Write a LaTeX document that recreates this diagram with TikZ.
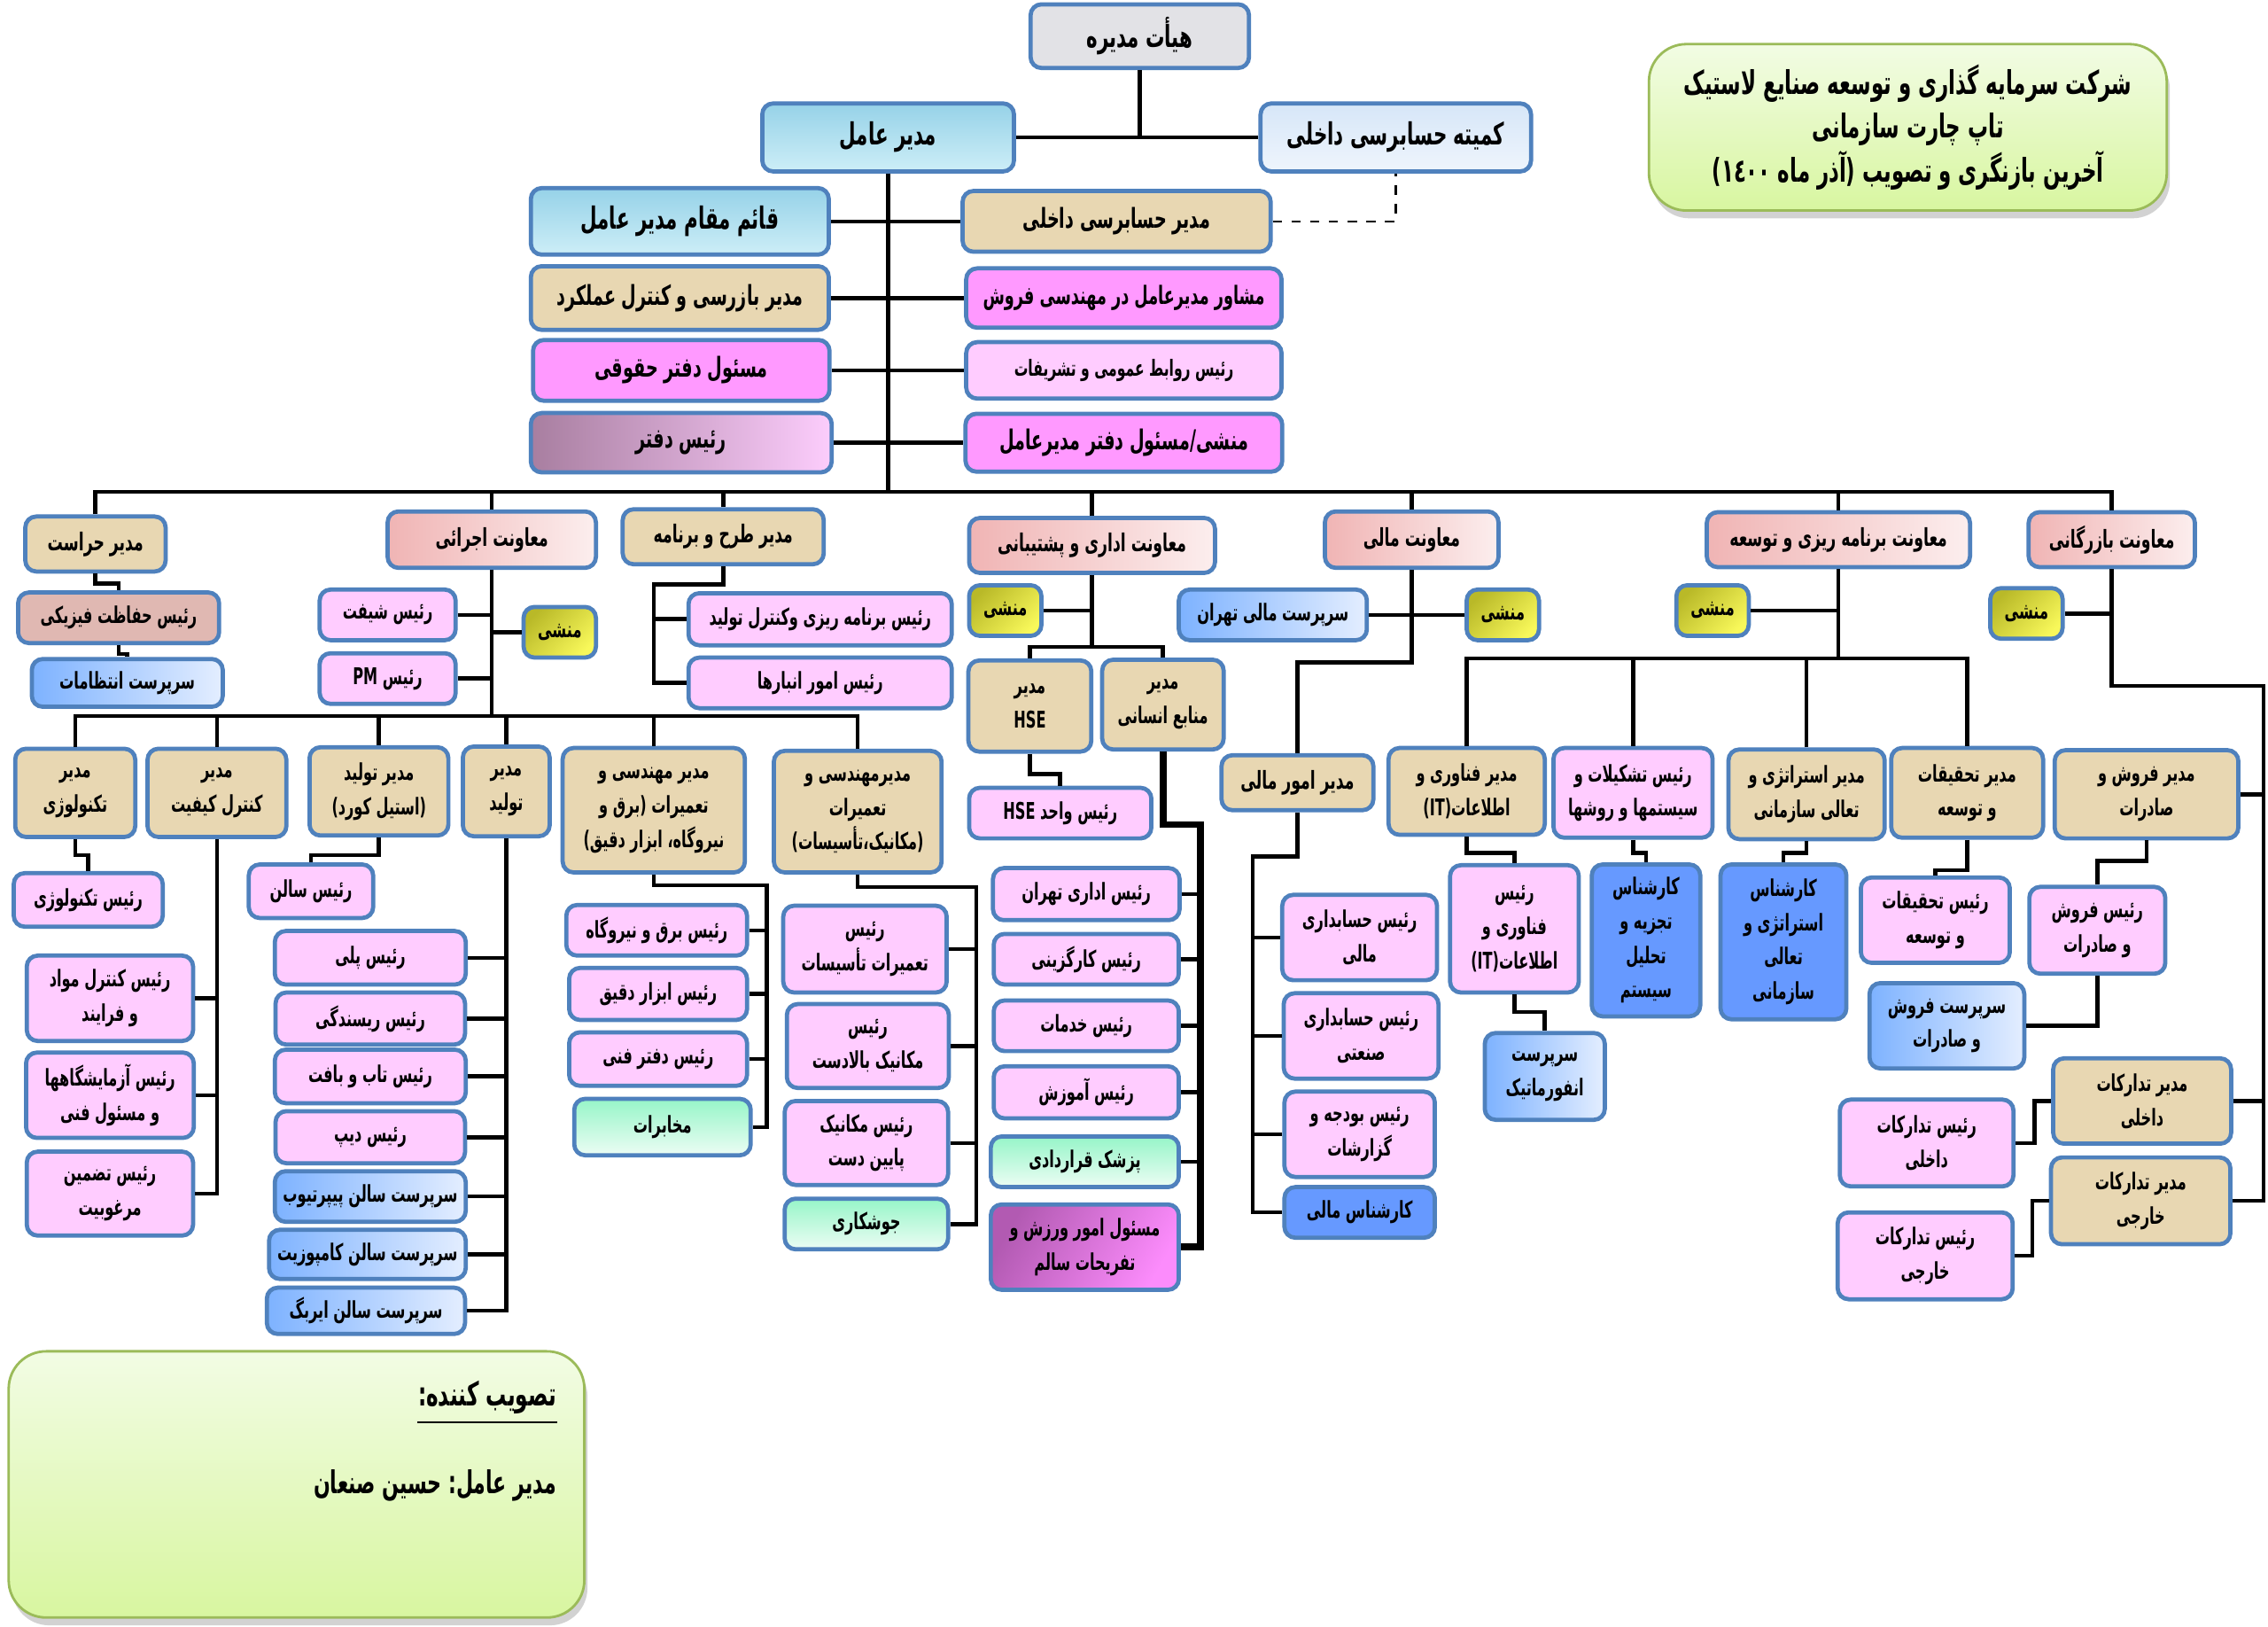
\documentclass[tikz,border=0pt]{standalone}
\usepackage{fontspec}
\usetikzlibrary{shadows}
\TeXXeTstate=1
\newfontfamily\fa[Script=Arabic,FakeStretch=0.69]{DejaVu Sans Condensed}
\newcommand\R[1]{\beginR#1\endR}
\newcommand\Lb[1]{\hbox{\beginL#1\endL}}
\newcommand\fT{\fa\bfseries\fontsize{9.8}{11}\selectfont}
\newcommand\fS{\fa\bfseries\fontsize{8.8}{10}\selectfont}
\newcommand\fH{\fa\bfseries\fontsize{7.9}{10}\selectfont}
\newcommand\fN{\fa\bfseries\fontsize{7.4}{11}\selectfont}
\definecolor{bcol}{RGB}{79,129,189}
\definecolor{beigec}{RGB}{232,215,178}
\definecolor{lpinkc}{RGB}{255,204,255}
\definecolor{magc}{RGB}{255,153,255}
\definecolor{dblue}{RGB}{102,153,255}
\definecolor{bgl}{RGB}{125,178,255}
\definecolor{bgr}{RGB}{228,238,255}
\definecolor{sal1}{RGB}{240,180,180}
\definecolor{sal2}{RGB}{252,238,238}
\definecolor{yel1}{RGB}{185,185,40}
\definecolor{yel2}{RGB}{248,248,90}
\definecolor{mint1}{RGB}{150,245,200}
\definecolor{mint2}{RGB}{236,253,244}
\definecolor{cyan1}{RGB}{150,210,232}
\definecolor{cyan2}{RGB}{205,238,247}
\definecolor{pblue}{RGB}{214,230,248}
\definecolor{marble}{RGB}{226,226,230}
\definecolor{rose}{RGB}{224,184,178}
\definecolor{purp1}{RGB}{168,126,160}
\definecolor{purp2}{RGB}{252,205,252}
\definecolor{vio1}{RGB}{178,90,178}
\definecolor{vio2}{RGB}{252,140,252}
\definecolor{gr1}{RGB}{242,252,228}
\definecolor{gr2}{RGB}{216,246,160}
\definecolor{grb}{RGB}{155,187,89}
\tikzset{
  bx/.style={draw=bcol,line width=1.35pt,rounded corners=3.5pt,inner sep=1pt,align=center,text=black,font=\fN},
  sz/.style 2 args={minimum width=#1*0.016327cm,minimum height=#2*0.016327cm},
  sbeige/.style={bx,fill=beigec},
  spink/.style={bx,fill=lpinkc},
  smag/.style={bx,fill=magc},
  sdblue/.style={bx,fill=dblue},
  sblue/.style={bx,left color=bgl,right color=bgr},
  ssal/.style={bx,left color=sal1,right color=sal2,font=\fH},
  syel/.style={bx,left color=yel1,right color=yel2,shading angle=45},
  smint/.style={bx,top color=mint1,bottom color=mint2},
  scyan/.style={bx,top color=cyan1,bottom color=cyan2,font=\fT},
  sgreen/.style={draw=grb,line width=0.8pt,rounded corners=12pt,top color=gr1,bottom color=gr2,
     drop shadow={opacity=0.35,shadow xshift=1pt,shadow yshift=-2.5pt}},
  ln/.style={line width=1.3pt,black},
  lnb/.style={line width=2.2pt,black}
}
\begin{document}
\begin{tikzpicture}[x=0.016327cm,y=-0.016327cm]
\fill[white] (0,0) rectangle (1568,1124);
% ---------- top ----------
\node[bx,fill=marble,font=\fT,sz={151}{44}] (board) at (788,25) {\R{هیأت مدیره}};
\node[scyan,sz={174}{47}] (ceo) at (614,95) {\R{مدیر عامل}};
\node[bx,top color=pblue,bottom color=white!60!pblue,font=\fT,sz={187}{47}] (audc) at (965,95) {\R{کمیته حسابرسی داخلی}};
\node[sgreen,sz={358}{115},align=center,font=\fa\bfseries\fontsize{10.5}{14}\selectfont] (title) at (1319,88)
 {\R{شرکت سرمایه گذاری و توسعه صنایع لاستیک}\\\R{تاپ چارت سازمانی}\\\R{آخرین بازنگری و تصویب \Lb{(}آذر ماه \Lb{١٤٠٠}\Lb{)}}};
\node[scyan,sz={206}{46}] (dep) at (470,153) {\R{قائم مقام مدیر عامل}};
\node[sbeige,font=\fS,sz={206}{44}] (insp) at (470,206) {\R{مدیر بازرسی و کنترل عملکرد}};
\node[smag,font=\fS,sz={205}{42}] (legal) at (471,256) {\R{مسئول دفتر حقوقی}};
\node[bx,left color=purp1,right color=purp2,font=\fS,sz={208}{41}] (office) at (471,306) {\R{رئیس دفتر}};
\node[sbeige,font=\fS,sz={213}{42}] (iaud) at (772,153) {\R{مدیر حسابرسی داخلی}};
\node[smag,font=\fa\bfseries\fontsize{8.1}{10}\selectfont,sz={218}{41}] (advs) at (777,206) {\R{مشاور مدیرعامل در مهندسی فروش}};
\node[spink,font=\fa\bfseries\fontsize{7.15}{10}\selectfont,sz={218}{39}] (pr) at (777,256) {\R{رئیس روابط عمومی و تشریفات}};
\node[smag,font=\fS,sz={219}{40}] (secy) at (777,306) {\R{منشی\Lb{/}مسئول دفتر مدیرعامل}};
\coordinate (bus) at (614,340);
\draw[ln] (board.south) -- (board.south |- ceo.east);
\draw[ln] (ceo.east) -- (audc.west);
\draw[ln] (ceo.south) -- (bus);
\draw[ln] (dep.east) -- (iaud.west);
\draw[ln] (insp.east) -- (advs.west);
\draw[ln] (legal.east) -- (pr.west);
\draw[ln] (office.east) -- (secy.west);
\draw[dashed,line width=0.6pt] (iaud.east) -| (audc.south);
% ---------- level 1 ----------
\node[sbeige,font=\fH,sz={97}{38}] (guard) at (66,376) {\R{مدیر حراست}};
\node[ssal,sz={144}{39}] (vexec) at (340,373) {\R{معاونت اجرائی}};
\node[sbeige,font=\fH,sz={139}{38}] (plan) at (500,371) {\R{مدیر طرح و برنامه}};
\node[ssal,sz={170}{38}] (vadm) at (755,377) {\R{معاونت اداری و پشتیبانی}};
\node[ssal,sz={120}{39}] (vfin) at (976,373) {\R{معاونت مالی}};
\node[ssal,sz={182}{38}] (vdev) at (1271,373) {\R{معاونت برنامه ریزی و توسعه}};
\node[ssal,sz={115}{38}] (vcom) at (1460,373) {\R{معاونت بازرگانی}};
\draw[ln] (guard.north) |- (bus) -| (vcom.north);
\foreach \n in {vexec,plan,vadm,vfin,vdev} \draw[ln] (\n.north) -- (\n.north |- bus);
% ---------- guard ----------
\node[bx,fill=rose,sz={139}{35}] (phys) at (82,427) {\R{رئیس حفاظت فیزیکی}};
\node[sblue,sz={132}{33}] (secg) at (88,472) {\R{سرپرست انتظامات}};
\draw[ln] (guard.south) -- ++(0,7) -| (phys.north);
\draw[ln] (phys.south) -- ++(0,6) -| (secg.north);
% ---------- executive ----------
\node[spink,sz={94}{35}] (shift) at (268,425) {\R{رئیس شیفت}};
\node[spink,sz={94}{35}] (pm) at (268,469) {\R{رئیس \Lb{PM}}};
\node[syel,sz={50}{35}] (m1) at (387,437) {\R{منشی}};
\coordinate (eb) at (340,495);
\draw[ln] (vexec.south) -- (eb);
\draw[ln] (shift.east) -- (shift.east -| eb);
\draw[ln] (pm.east) -- (pm.east -| eb);
\draw[ln] (m1.west) -- (m1.west -| eb);
\node[sbeige,sz={83}{61}] (techm) at (52,548) {\R{مدیر}\\\R{تکنولوژی}};
\node[sbeige,sz={96}{61}] (qcm) at (150,548) {\R{مدیر}\\\R{کنترل کیفیت}};
\node[sbeige,sz={96}{61}] (scm) at (262,547) {\R{مدیر تولید}\\\R{\Lb{(}استیل کورد\Lb{)}}};
\node[sbeige,sz={60}{62}] (prodm) at (350,547) {\R{مدیر}\\\R{تولید}};
\node[sbeige,sz={126}{86}] (elecm) at (452,560) {\R{مدیر مهندسی و}\\\R{تعمیرات \Lb{(}برق و}\\\R{نیروگاه، ابزار دقیق\Lb{)}}};
\node[sbeige,sz={116}{84}] (mechm) at (593,561) {\R{مدیرمهندسی و}\\\R{تعمیرات}\\\R{\Lb{(}مکانیک،تأسیسات\Lb{)}}};
\draw[ln] (techm.north) |- (eb) -| (mechm.north);
\foreach \n in {qcm,scm,prodm,elecm} \draw[ln] (\n.north) -- (\n.north |- eb);
% technology
\node[spink,sz={103}{37}] (techc) at (61,622) {\R{رئیس تکنولوژی}};
\draw[ln] (techm.south) -- ++(0,11) -| (techc.north);
% quality
\node[spink,sz={115}{59}] (qc1) at (76,690) {\R{رئیس کنترل مواد}\\\R{و فرایند}};
\node[spink,sz={116}{59}] (qc2) at (76,757) {\R{رئیس آزمایشگاهها}\\\R{و مسئول فنی}};
\node[spink,sz={115}{58}] (qc3) at (76,825) {\R{رئیس تضمین}\\\R{مرغوبیت}};
\draw[ln] (qcm.south) |- (qc3.east);
\draw[ln] (qc1.east) -- (qc1.east -| qcm.south);
\draw[ln] (qc2.east) -- (qc2.east -| qcm.south);
% steel cord
\node[spink,sz={86}{37}] (hall) at (215,616) {\R{رئیس سالن}};
\draw[ln] (scm.south) -- ++(0,12) -| (hall.north);
% production
\node[spink,sz={132}{37}] (p1) at (256,662) {\R{رئیس پلی}};
\node[spink,sz={131}{36}] (p2) at (256,704) {\R{رئیس ریسندگی}};
\node[spink,sz={132}{37}] (p3) at (256,744) {\R{رئیس تاب و بافت}};
\node[spink,sz={131}{36}] (p4) at (256,786) {\R{رئیس دیپ}};
\node[sblue,sz={132}{35}] (p5) at (256,827) {\R{سرپرست سالن پیپرتیوب}};
\node[sblue,sz={136}{34}] (p6) at (254,867) {\R{سرپرست سالن کامپوزیت}};
\node[sblue,sz={137}{32}] (p7) at (253,906) {\R{سرپرست سالن ایربگ}};
\draw[ln] (prodm.south) |- (p7.east);
\foreach \n in {p1,p2,p3,p4,p5,p6} \draw[ln] (\n.east) -- (\n.east -| prodm.south);
% electrical
\node[spink,sz={125}{35}] (e1) at (454,643) {\R{رئیس برق و نیروگاه}};
\node[spink,sz={123}{36}] (e2) at (455,687) {\R{رئیس ابزار دقیق}};
\node[spink,sz={123}{37}] (e3) at (455,732) {\R{رئیس دفتر فنی}};
\node[smint,sz={122}{39}] (e4) at (458,779) {\R{مخابرات}};
\coordinate (et) at (530,612);
\draw[ln] (elecm.south) |- (et) |- (e4.east);
\foreach \n in {e1,e2,e3} \draw[ln] (\n.east) -- (\n.east -| et);
% mechanical
\node[spink,sz={113}{60}] (k1) at (598,656) {\R{رئیس}\\\R{تعمیرات تأسیسات}};
\node[spink,sz={112}{58}] (k2) at (600,723) {\R{رئیس}\\\R{مکانیک بالادست}};
\node[spink,sz={113}{58}] (k3) at (599,790) {\R{رئیس مکانیک}\\\R{پایین دست}};
\node[smint,sz={113}{35}] (k4) at (599,846) {\R{جوشکاری}};
\coordinate (kt) at (675,613);
\draw[ln] (mechm.south) |- (kt) |- (k4.east);
\foreach \n in {k1,k2,k3} \draw[ln] (\n.east) -- (\n.east -| kt);
% ---------- plan ----------
\node[spink,sz={182}{36}] (pl1) at (567,428) {\R{رئیس برنامه ریزی وکنترل تولید}};
\node[spink,sz={182}{35}] (pl2) at (567,472) {\R{رئیس امور انبارها}};
\coordinate (pt) at (452,404);
\draw[ln] (plan.south) |- (pt) |- (pl2.west);
\draw[ln] (pl1.west) -- (pl1.west -| pt);
% ---------- admin ----------
\node[syel,sz={50}{35}] (m2) at (695,422) {\R{منشی}};
\coordinate (at) at (755,447);
\draw[ln] (vadm.south) -- (at);
\draw[ln] (m2.east) -- (m2.east -| at);
\node[sbeige,sz={85}{63}] (hse) at (712,488) {\R{مدیر}\\\Lb{HSE}};
\node[sbeige,sz={84}{62}] (hr) at (804,487) {\R{مدیر}\\\R{منابع انسانی}};
\draw[ln] (hse.north) |- (at) -| (hr.north);
\node[spink,sz={126}{35}] (hseu) at (733,562) {\R{رئیس واحد \Lb{HSE}}};
\draw[ln] (hse.south) -- ++(0,14) -| (hseu.north);
\node[spink,sz={129}{36}] (h1) at (751,618) {\R{رئیس اداری تهران}};
\node[spink,sz={128}{35}] (h2) at (751,663) {\R{رئیس کارگزینی}};
\node[spink,sz={128}{35}] (h3) at (751,709) {\R{رئیس خدمات}};
\node[spink,sz={128}{36}] (h4) at (751,755) {\R{رئیس آموزش}};
\node[smint,sz={130}{35}] (h5) at (750,803) {\R{پزشک قراردادی}};
\node[bx,left color=vio1,right color=vio2,shading angle=60,sz={130}{59}] (h6) at (750,862) {\R{مسئول امور ورزش و}\\\R{تفریحات سالم}};
\coordinate (ht) at (830,570);
\draw[lnb] (hr.south) |- (ht) |- (h6.east);
\foreach \n in {h1,h2,h3,h4,h5} \draw[ln] (\n.east) -- (\n.east -| ht);
% ---------- finance ----------
\node[sblue,sz={130}{35}] (fs) at (880,425) {\R{سرپرست مالی تهران}};
\node[syel,sz={50}{35}] (m3) at (1039,425) {\R{منشی}};
\draw[ln] (fs.east) -- (m3.west);
\node[sbeige,font=\fH,sz={105}{38}] (fa) at (897,541) {\R{مدیر امور مالی}};
\draw[ln] (vfin.south) -- ++(0,64) -| (fa.north);
\node[spink,sz={107}{59}] (f1) at (940,648) {\R{رئیس حسابداری}\\\R{مالی}};
\node[spink,sz={107}{59}] (f2) at (941,716) {\R{رئیس حسابداری}\\\R{صنعتی}};
\node[spink,sz={104}{59}] (f3) at (940,784) {\R{رئیس بودجه و}\\\R{گزارشات}};
\node[sdblue,sz={104}{35}] (f4) at (940,838) {\R{کارشناس مالی}};
\coordinate (ft) at (866,592);
\draw[ln] (fa.south) |- (ft) |- (f4.west);
\foreach \n in {f1,f2,f3} \draw[ln] (\n.west) -- (\n.west -| ft);
% ---------- development ----------
\node[syel,sz={50}{35}] (m4) at (1184,422) {\R{منشی}};
\draw[ln] (m4.east) -- (m4.east -| vdev.south);
\coordinate (dt) at (1271,455);
\draw[ln] (vdev.south) -- (dt);
\node[sbeige,sz={108}{60}] (it) at (1014,547) {\R{مدیر فناوری و}\\\R{اطلاعات\Lb{(IT)}}};
\node[spink,sz={110}{62}] (org) at (1129,548) {\R{رئیس تشکیلات و}\\\R{سیستمها و روشها}};
\node[sbeige,sz={108}{62}] (strat) at (1249,549) {\R{مدیر استراتژی و}\\\R{تعالی سازمانی}};
\node[sbeige,sz={105}{62}] (rnd) at (1360,548) {\R{مدیر تحقیقات}\\\R{و توسعه}};
\draw[ln] (it.north) |- (dt) -| (rnd.north);
\draw[ln] (org.north) -- (org.north |- dt);
\draw[ln] (strat.north) -- (strat.north |- dt);
\node[spink,sz={89}{88}] (itc) at (1047,642) {\R{رئیس}\\\R{فناوری و}\\\R{اطلاعات\Lb{(IT)}}};
\draw[ln] (it.south) -- ++(0,11) -| (itc.north);
\node[sblue,sz={83}{60}] (inf) at (1068,744) {\R{سرپرست}\\\R{انفورماتیک}};
\draw[ln] (itc.south) -- ++(0,12) -| (inf.north);
\node[sdblue,sz={75}{105}] (orgc) at (1138,650) {\R{کارشناس}\\\R{تجزیه و}\\\R{تحلیل}\\\R{سیستم}};
\draw[ln] (org.south) -- ++(0,9) -| (orgc.north);
\node[sdblue,sz={87}{107}] (stc) at (1233,651) {\R{کارشناس}\\\R{استراتژی و}\\\R{تعالی}\\\R{سازمانی}};
\draw[ln] (strat.south) -- ++(0,8) -| (stc.north);
\node[spink,sz={103}{59}] (rndc) at (1338,636) {\R{رئیس تحقیقات}\\\R{و توسعه}};
\draw[ln] (rnd.south) -- ++(0,21) -| (rndc.north);
% ---------- commerce ----------
\node[syel,sz={50}{35}] (m5) at (1401,424) {\R{منشی}};
\draw[ln] (m5.east) -- (m5.east -| vcom.south);
\coordinate (ct) at (1565,474);
\node[sbeige,sz={127}{61}] (sales) at (1484,549) {\R{مدیر فروش و}\\\R{صادرات}};
\node[spink,sz={94}{60}] (salesc) at (1450,643) {\R{رئیس فروش}\\\R{و صادرات}};
\node[sblue,sz={107}{59}] (salesv) at (1346,709) {\R{سرپرست فروش}\\\R{و صادرات}};
\node[sbeige,sz={123}{59}] (pin) at (1481,761) {\R{مدیر تدارکات}\\\R{داخلی}};
\node[sbeige,sz={124}{60}] (pex) at (1480,830) {\R{مدیر تدارکات}\\\R{خارجی}};
\node[spink,sz={120}{60}] (pinc) at (1332,790) {\R{رئیس تدارکات}\\\R{داخلی}};
\node[spink,sz={121}{60}] (pexc) at (1331,868) {\R{رئیس تدارکات}\\\R{خارجی}};
\draw[ln] (vcom.south) |- (ct) |- (pex.east);
\draw[ln] (sales.east) -- (sales.east -| ct);
\draw[ln] (pin.east) -- (pin.east -| ct);
\draw[ln] (sales.south) -- ++(0,14) -| (salesc.north);
\draw[ln] (salesc.south) |- (salesv.east);
\draw[ln] (pinc.east) -- ++(13,0) |- (pin.west);
\draw[ln] (pexc.east) -- ++(12,0) |- (pex.west);
% ---------- footer ----------
\node[sgreen,sz={398}{184}] (foot) at (205,1026) {};
\node[anchor=east,inner sep=0pt,font=\fa\bfseries\fontsize{10.6}{12}\selectfont] (ttl) at (385,966) {\R{تصویب کننده\Lb{:}}};
\draw[line width=0.6pt] ([yshift=-2.5pt]ttl.south west) -- ([yshift=-2.5pt]ttl.south east);
\node[anchor=east,inner sep=0pt,font=\fa\bfseries\fontsize{10.1}{12}\selectfont] (sig) at (385,1027) {\R{مدیر عامل\Lb{:} حسین صنعان}};
\end{tikzpicture}
\end{document}
